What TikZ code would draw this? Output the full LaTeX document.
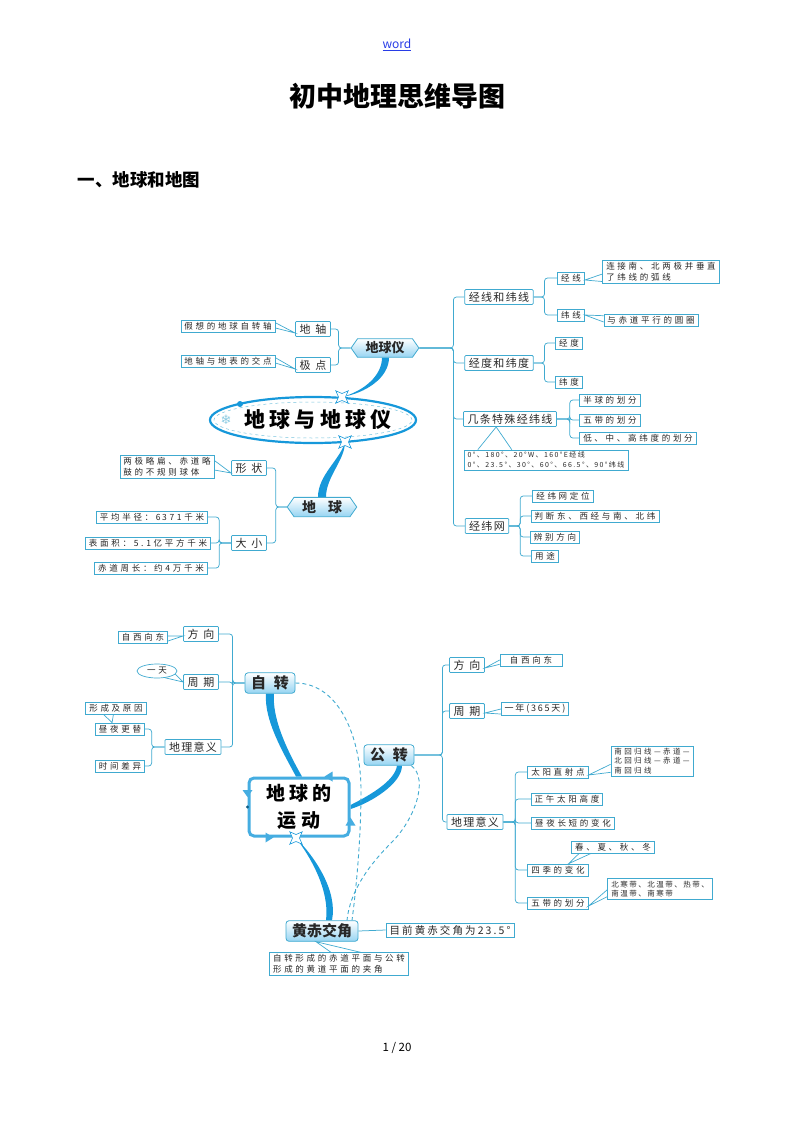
\documentclass[tikz,border=0pt]{standalone}
\usepackage{fontspec}
\setmainfont{Noto Sans CJK SC}
\newfontfamily\lsp{Noto Sans CJK SC}[LetterSpace=32]
\newfontfamily\msp{Noto Sans CJK SC}[LetterSpace=12]
\newfontfamily\ssp{Noto Sans CJK SC}[LetterSpace=20]
\newfontfamily\djv{DejaVu Sans}
\usetikzlibrary{shapes.geometric,shapes.symbols,calc,backgrounds}
\definecolor{lb}{RGB}{64,170,208}
\definecolor{tb}{RGB}{22,152,218}
\definecolor{fb}{RGB}{150,212,242}
\definecolor{tx}{RGB}{40,40,40}
\definecolor{lnk}{RGB}{40,60,230}
\tikzset{
  leaf/.style={draw=lb, line width=0.7pt, fill=white, inner xsep=3.5pt, inner ysep=2pt,
    font=\lsp\fontsize{8.5}{10}\selectfont, text=tx, align=left},
  mid/.style={draw=lb, line width=0.75pt, fill=white, inner xsep=4pt, inner ysep=2.5pt,
    rounded corners=1pt, font=\msp\fontsize{11}{13}\selectfont, text=tx},
  mainbox/.style={draw=lb, line width=0.8pt, rounded corners=3pt, top color=white,
    bottom color=fb, font=\bfseries\fontsize{15}{17}\selectfont, text=tx, inner xsep=6pt, inner ysep=3pt},
  hexa/.style={signal, signal to=east and west, signal pointer angle=110, draw=lb,
    line width=0.8pt, top color=white, bottom color=fb, font=\fontsize{13}{15}\selectfont,
    text=tx, inner xsep=8pt, inner ysep=3pt},
  conn/.style={draw=lb, line width=0.75pt, rounded corners=3pt},
  tail/.style={draw=lb, line width=0.7pt, line join=miter},
  thk/.style={fill=tb, draw=none},
  dsh/.style={draw=lb, dash pattern=on 4pt off 3pt, line width=0.9pt},
  spark/.style={star, star points=4, star point ratio=0.4, draw=tb, fill=white,
    line width=0.6pt, minimum size=7pt, inner sep=0pt, outer sep=0pt},
}
\begin{document}
\begin{tikzpicture}[x=1pt,y=-1pt]
\useasboundingbox (0,0) rectangle (793,1122);

% page header / footer
\node[font=\fontsize{12}{14}\selectfont, text=lnk] (wdlink) at (397,45) {\underline{word}};
\node[font=\bfseries\fontsize{27}{30}\selectfont, text=black] (title) at (397,96) {初中地理思维导图};
\node[font=\bfseries\fontsize{17.5}{20}\selectfont, anchor=west, text=black] (sec) at (74,180) {一、地球和地图};
\node[font=\fontsize{11.5}{14}\selectfont, text=black] (pg) at (397,1048) {1 / 20};

% ================= MAP 1 =================
\node[ellipse, draw=tb, line width=2.2pt, minimum width=206pt, minimum height=46pt, fill=white] (ov) at (313,420) {};
\draw[lb!70, dashed, line width=0.5pt] (ov.center) ellipse [x radius=99pt, y radius=18pt];
\node[font=\ssp\bfseries\fontsize{21}{24}\selectfont, text=black] (ovt) at (318,420) {地球与地球仪};
\fill[tb] ($(ov.center)+(-73,-16)$) circle (3pt);
\node[text=lb!60, font=\djv\fontsize{13}{13}\selectfont] (sf) at (226,420) {❄};
\node[spark] (st1) at (342,397) {};
\node[spark] (st2) at (345,442) {};

\node[hexa, font=\bfseries\fontsize{13}{15}\selectfont] (dqy) at (385,348) {地球仪};
\node[mid] (dz) at (313,329) {地\hspace{5pt}轴};
\node[mid] (jd) at (313,365) {极\hspace{5pt}点};
\node[leaf] (c1) at (228,326) {假想的地球自转轴};
\node[leaf] (c2) at (228,361) {地轴与地表的交点};

\node[mid] (jw) at (499,297) {经线和纬线};
\node[leaf] (jx) at (571,278) {经\hspace{3pt}线};
\node[leaf] (wx) at (571,315) {纬\hspace{3pt}线};
\node[leaf, font=\lsp\fontsize{8.5}{10.5}\selectfont] (c3) at (661,272) {连接南、北两极并垂直\\了纬线的弧线};
\node[leaf] (c4) at (651,320) {与赤道平行的圆圈};
\node[mid] (jdw) at (499,363) {经度和纬度};
\node[leaf] (jdu) at (569,343) {经\hspace{3pt}度};
\node[leaf] (wdu) at (569,382) {纬\hspace{3pt}度};
\node[mid] (tsx) at (510,419) {几条特殊经纬线};
\node[leaf] (bq) at (610,400) {半球的划分};
\node[leaf] (wdh) at (610,420) {五带的划分};
\node[leaf] (dzg) at (638,438) {低、中、高纬度的划分};
\node[leaf, font=\ssp\fontsize{7}{9.5}\selectfont] (c5) at (546,460) {0°、180°、20°W、160°E经线\\0°、23.5°、30°、60°、66.5°、90°纬线};
\node[mid] (jwn) at (487,526) {经纬网};
\node[leaf] (y1) at (563,496) {经纬网定位};
\node[leaf] (y2) at (595,516) {判断东、西经与南、北纬};
\node[leaf] (y3) at (555,537) {辨别方向};
\node[leaf] (y4) at (545,556) {用\hspace{3pt}途};

\node[hexa, font=\bfseries\fontsize{14}{16}\selectfont] (dq) at (322,507) {地\hspace{12pt}球};
\node[mid] (xz) at (249,468) {形\hspace{5pt}状};
\node[mid] (dx) at (249,543) {大\hspace{5pt}小};
\node[leaf, font=\lsp\fontsize{8.5}{10.5}\selectfont] (c6) at (167,467) {两极略扁、赤道略\\鼓的不规则球体};
\node[leaf] (r1) at (152,517) {平均半径：6\,371千米};
\node[leaf] (r2) at (148,543) {表面积：5.1亿平方千米};
\node[leaf] (r3) at (151,568) {赤道周长：约4万千米};

% ================= MAP 2 =================
\node[mainbox] (zz) at (270,683) {自\hspace{8pt}转};
\node[mid] (fx1) at (201,634) {方\hspace{5pt}向};
\node[mid] (zq1) at (201,682) {周\hspace{5pt}期};
\node[mid] (dl1) at (193,747) {地理意义};
\node[leaf] (c7) at (143,637) {自西向东};
\node[ellipse, draw=lb, line width=0.7pt, fill=white, inner sep=0pt, minimum width=40pt,
  minimum height=14pt, font=\lsp\fontsize{8.5}{10}\selectfont, text=tx] (e1) at (157,671) {一天};
\node[leaf] (c8) at (116,708) {形成及原因};
\node[leaf] (zy) at (120,729) {昼夜更替};
\node[leaf] (sj) at (120,766) {时间差异};

\node[mainbox] (gz) at (389,755) {公\hspace{8pt}转};
\node[mid] (fx2) at (467,665) {方\hspace{5pt}向};
\node[mid] (zq2) at (467,711) {周\hspace{5pt}期};
\node[mid] (dl2) at (475,822) {地理意义};
\node[leaf, minimum width=62pt, align=center] (c9) at (531,660) {自西向东};
\node[leaf, font=\ssp\fontsize{9}{11}\selectfont] (c10) at (535,709) {一年(365天)};
\node[leaf] (ty) at (558,772) {太阳直射点};
\node[leaf, font=\lsp\fontsize{7.5}{9.5}\selectfont] (c11) at (652,761) {南回归线—赤道—\\北回归线—赤道—\\南回归线};
\node[leaf] (zw) at (567,799) {正午太阳高度};
\node[leaf] (zy2) at (573,823) {昼夜长短的变化};
\node[leaf] (sj2) at (558,870) {四季的变化};
\node[leaf] (c12) at (613,847) {春、夏、秋、冬};
\node[leaf] (wd2) at (558,903) {五带的划分};
\node[leaf, font=\ssp\fontsize{7.5}{9.5}\selectfont] (c13) at (660,889) {北寒带、北温带、热带、\\南温带、南寒带};

\node[draw=tb!80, line width=3pt, rounded corners=5pt, fill=white, minimum width=100pt,
  minimum height=58pt, align=center, font=\ssp\bfseries\fontsize{19}{27}\selectfont, text=black] (m2) at (299,807) {地球的\\运\hspace{6pt}动};
\node[spark] (st3) at (296,838) {};
\node[mainbox] (hc) at (322,931) {黄赤交角};
\node[leaf, font=\ssp\fontsize{10.5}{12}\selectfont] (c14) at (450,930) {目前黄赤交角为23.5°};
\node[leaf, font=\lsp\fontsize{8.5}{10.5}\selectfont] (c15) at (339,964) {自转形成的赤道平面与公转\\形成的黄道平面的夹角};

% decorations of the central box of map 2
\fill[tb!80] ($(m2.west)+(-5,-17)$) -- ($(m2.west)+(5,-17)$) -- ($(m2.west)+(0,-10)$) -- cycle;
\fill[tb!80] ($(m2.north east)+(-18,-5)$) -- ($(m2.north east)+(-18,5)$) -- ($(m2.north east)+(-26,0)$) -- cycle;
\fill[tb!80] ($(m2.south east)+(-5,-12)$) -- ($(m2.south east)+(5,-12)$) -- ($(m2.south east)+(0,-20)$) -- cycle;
\fill[tb!80] ($(m2.south west)+(18,-5)$) -- ($(m2.south west)+(18,5)$) -- ($(m2.south west)+(26,0)$) -- cycle;
\fill[tb!60!black] (m2.west) circle (1.6pt);

% callout tails
\draw[tail] ($(c1.north east)+(0,3)$) -- ($(dz.west)+(0,4)$) -- ($(c1.east)+(0,2)$);
\draw[tail] ($(c2.north east)+(0,3)$) -- ($(jd.west)+(0,4)$) -- ($(c2.east)+(0,2)$);
\draw[tail] ($(c3.west)+(0,2)$) -- ($(jx.east)+(0,2)$) -- ($(c3.south west)+(0,-2)$);
\draw[tail] ($(c4.north west)+(0,2)$) -- (wx.east) -- ($(c4.west)+(0,2)$);
\draw[tail] ($(c5.north west)+(14,0)$) -- ($(tsx.south west)+(33,0)$) -- ($(c5.north west)+(48,0)$);
\draw[tail] ($(c6.north east)+(0,5)$) -- ($(xz.west)+(0,5)$) -- ($(c6.east)+(0,3)$);
\draw[tail] ($(c7.east)+(0,-1)$) -- ($(fx1.west)+(0,2)$) -- ($(c7.east)+(0,4)$);
\draw[tail] (e1.-10) -- (zq1.west) -- (e1.-40);
\draw[tail] ($(c8.south west)+(18,0)$) -- ($(zy.north west)+(17,0)$) -- ($(c8.south west)+(28,0)$);
\draw[tail] (c9.west) -- ($(fx2.east)+(0,3)$) -- ($(c9.south west)+(0,-2)$);
\draw[tail] (c10.west) -- ($(zq2.east)+(0,2)$) -- ($(c10.south west)+(0,-2)$);
\draw[tail] ($(c11.south west)+(0,-12)$) -- ($(ty.east)+(0,3)$) -- ($(c11.south west)+(0,-4)$);
\draw[tail] ($(c12.south west)+(8,0)$) -- ($(sj2.north east)+(-20,0)$) -- ($(c12.south west)+(20,0)$);
\draw[tail] ($(c13.south west)+(0,-10)$) -- ($(wd2.east)+(0,3)$) -- ($(c13.south west)+(0,-3)$);
\draw[tail] ($(c15.north west)+(62,0)$) -- ($(hc.south)+(-6,0)$) -- ($(c15.north west)+(92,0)$);

\coordinate (dm1) at (361,790);
\coordinate (dm2) at (392,842);

\begin{scope}[on background layer]
  % map 1 tree lines
  \draw[conn] (dqy.west) -- ++(-12,0) |- (dz.east);
  \draw[conn] (dqy.west) -- ++(-12,0) |- (jd.east);
  \draw[conn] (dqy.east) -- ++(34,0) |- (jw.west);
  \draw[conn] (dqy.east) -- ++(34,0) |- (jdw.west);
  \draw[conn] (dqy.east) -- ++(34,0) |- (tsx.west);
  \draw[conn] (dqy.east) -- ++(34,0) |- (jwn.west);
  \draw[conn] (jw.east) -- ++(11,0) |- (jx.west);
  \draw[conn] (jw.east) -- ++(11,0) |- (wx.west);
  \draw[conn] (jdw.east) -- ++(11,0) |- (jdu.west);
  \draw[conn] (jdw.east) -- ++(11,0) |- (wdu.west);
  \draw[conn] (tsx.east) -- ++(13,0) |- (bq.west);
  \draw[conn] (tsx.east) -- ++(13,0) |- (wdh.west);
  \draw[conn] (tsx.east) -- ++(13,0) |- (dzg.west);
  \draw[conn] (jwn.east) -- ++(11,0) |- (y1.west);
  \draw[conn] (jwn.east) -- ++(11,0) |- (y2.west);
  \draw[conn] (jwn.east) -- ++(11,0) |- (y3.west);
  \draw[conn] (jwn.east) -- ++(11,0) |- (y4.west);
  \draw[conn] (dq.west) -- ++(-11,0) |- (xz.east);
  \draw[conn] (dq.west) -- ++(-11,0) |- (dx.east);
  \draw[conn] (dx.west) -- ++(-12,0) |- (r1.east);
  \draw[conn] (dx.west) -- ++(-12,0) |- (r2.east);
  \draw[conn] (dx.west) -- ++(-12,0) |- (r3.east);
  % map 2 tree lines
  \draw[conn] (zz.west) -- ++(-12,0) |- (fx1.east);
  \draw[conn] (zz.west) -- ++(-12,0) |- (zq1.east);
  \draw[conn] (zz.west) -- ++(-12,0) |- (dl1.east);
  \draw[conn] (dl1.west) -- ++(-13,0) |- (zy.east);
  \draw[conn] (dl1.west) -- ++(-13,0) |- (sj.east);
  \draw[conn] (gz.east) -- ++(28,0) |- (fx2.west);
  \draw[conn] (gz.east) -- ++(28,0) |- (zq2.west);
  \draw[conn] (gz.east) -- ++(28,0) |- (dl2.west);
  \draw[conn] (dl2.east) -- ++(12,0) |- (ty.west);
  \draw[conn] (dl2.east) -- ++(12,0) |- (zw.west);
  \draw[conn] (dl2.east) -- ++(12,0) |- (zy2.west);
  \draw[conn] (dl2.east) -- ++(12,0) |- (sj2.west);
  \draw[conn] (dl2.east) -- ++(12,0) |- (wd2.west);
  \draw[conn] (hc.east) -- (c14.west);
  % thick tapered links
  \fill[thk] ($(dqy.south)+(-3,0)$) .. controls +(0,18) and +(22,-6) .. (st1.center)
     .. controls +(24,-4) and +(0,20) .. ($(dqy.south)+(4,0)$) -- cycle;
  \fill[thk] (st2.center) .. controls +(-5,18) and +(0,-22) .. ($(dq.north)+(-4,0)$)
     -- ($(dq.north)+(4,0)$) .. controls +(0,-20) and +(0,18) .. (st2.center) -- cycle;
  \fill[thk] ($(zz.south)+(-4,0)$) .. controls +(-2,26) and +(-14,-26) .. ($(m2.north)+(-3,0)$)
     -- ($(m2.north)+(3,0)$) .. controls +(-16,-28) and +(-2,24) .. ($(zz.south)+(4,0)$) -- cycle;
  \fill[thk] ($(m2.east)+(0,-2)$) .. controls +(16,-8) and +(-2,16) .. ($(gz.south)+(8,0)$)
     -- ($(gz.south)+(13,0)$) .. controls +(0,18) and +(20,-6) .. ($(m2.east)+(0,2)$) -- cycle;
  \fill[thk] (st3.center) .. controls +(14,18) and +(4,-30) .. ($(hc.north)+(4,0)$)
     -- ($(hc.north)+(10,0)$) .. controls +(6,-30) and +(18,18) .. (st3.center) -- cycle;
  % dashed links
  \draw[dsh] (zz.east) .. controls +(45,0) and +(0,-50) .. (dm1)
     .. controls +(0,50) and +(4,-30) .. ($(hc.north)+(30,0)$);
  \draw[dsh] ($(gz.south east)+(-3,0)$) .. controls +(18,14) and +(22,-22) .. (dm2)
     .. controls +(-22,22) and +(3,-30) .. ($(hc.north)+(25,0)$);
\end{scope}
\end{tikzpicture}
\end{document}
